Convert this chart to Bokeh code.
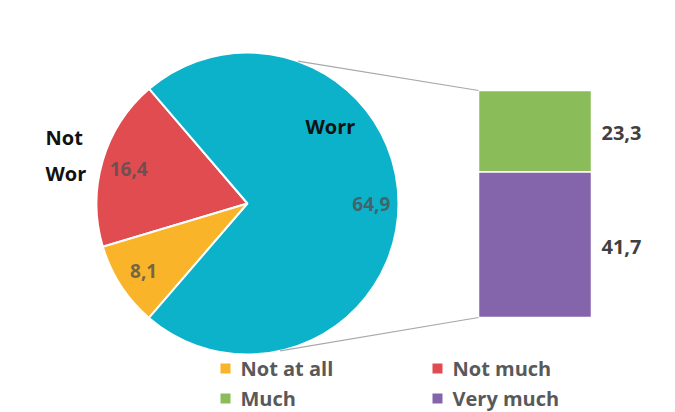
import numpy as np
from bokeh.plotting import figure
from bokeh.models import Range1d
from bokeh.core.properties import value
from bokeh.embed import file_html
from bokeh.resources import INLINE

# ---- data ----
pie_categories = ["Not much", "Not at all", "Worried"]
pie_values = [16.4, 8.1, 64.9]
pie_texts = ["16,4", "8,1", "64,9"]
pie_colors = ["#E14C50", "#F9B429", "#0BB2CA"]

bar_categories = ["Very much", "Much"]
bar_values = [41.7, 23.3]
bar_texts = ["41,7", "23,3"]
bar_colors = ["#8465AC", "#8ABD5A"]

legend_labels = ["Not at all", "Not much", "Much", "Very much"]
legend_colors = ["#F9B429", "#E14C50", "#8ABD5A", "#8465AC"]

# ---- layout (pixel-like data space, y up) ----
W, H = 675, 412
FONT = value("Open Sans")
p = figure(width=W, height=H, output_backend="svg", toolbar_location=None,
           x_range=Range1d(0, W), y_range=Range1d(0, H),
           min_border=0, outline_line_color=None)
p.axis.visible = False
p.grid.visible = False
p.background_fill_color = "white"

cx, cy, R = 247, 209, 151
start_deg = 130.6
vals = np.array(pie_values)
cum = np.concatenate([[0], np.cumsum(vals)]) / vals.sum() * 360.0
starts = np.radians(start_deg + cum[:-1])
ends = np.radians(start_deg + cum[1:])
p.wedge(x=cx, y=cy, radius=R, start_angle=starts, end_angle=ends,
        fill_color=pie_colors, line_color="white", line_width=2)

# pie value labels at mid angles
mids = (starts + ends) / 2
lr = 0.82 * R
p.text(x=cx + lr * np.cos(mids), y=cy + lr * np.sin(mids), text=pie_texts,
       text_font=FONT, text_font_style="bold", text_font_size="19px",
       text_color="#505050", text_alpha=0.8, text_align="center", text_baseline="middle")

# bar of pie
bx0, bx1 = 478, 591
by0 = 412 - 317
k = 227.0 / sum(bar_values)
bv = np.array(bar_values)
bottoms = by0 + k * np.concatenate([[0], np.cumsum(bv)[:-1]])
tops = by0 + k * np.cumsum(bv)
p.quad(left=bx0, right=bx1, bottom=bottoms, top=tops, fill_color=bar_colors,
       line_color="white", line_width=1.5)
p.text(x=601, y=(bottoms + tops) / 2 - 2, text=bar_texts, text_font=FONT,
       text_font_style="bold", text_font_size="20px", text_color="#404040",
       text_align="left", text_baseline="middle")

# connector lines
a_top, a_bot = np.radians(70.5), np.radians(-77.5)
p.segment(x0=[cx + R * np.cos(a_top), cx + R * np.cos(a_bot)],
          y0=[cy + R * np.sin(a_top), cy + R * np.sin(a_bot)],
          x1=[bx0, bx0], y1=[tops[-1], bottoms[0]],
          line_color="#A8A8A8", line_width=1.2)

# category labels
p.text(x=[45, 45, 305], y=[412 - 137, 412 - 173, 412 - 126], text=["Not", "Wor", "Worr"],
       text_font=FONT, text_font_style="bold", text_font_size="20px",
       text_color="#111111", text_align="left", text_baseline="middle")

# legend
lx = [225, 437, 225, 437]
ly = [412 - 368, 412 - 368, 412 - 398, 412 - 398]
p.rect(x=lx, y=ly, width=10, height=10, fill_color=legend_colors, line_color=None)
p.text(x=[v + 15 for v in lx], y=ly, text=legend_labels, text_font=FONT,
       text_font_style="bold", text_font_size="20px", text_color="#595959",
       text_align="left", text_baseline="middle")

open("out.html", "w").write(file_html(p, INLINE))
